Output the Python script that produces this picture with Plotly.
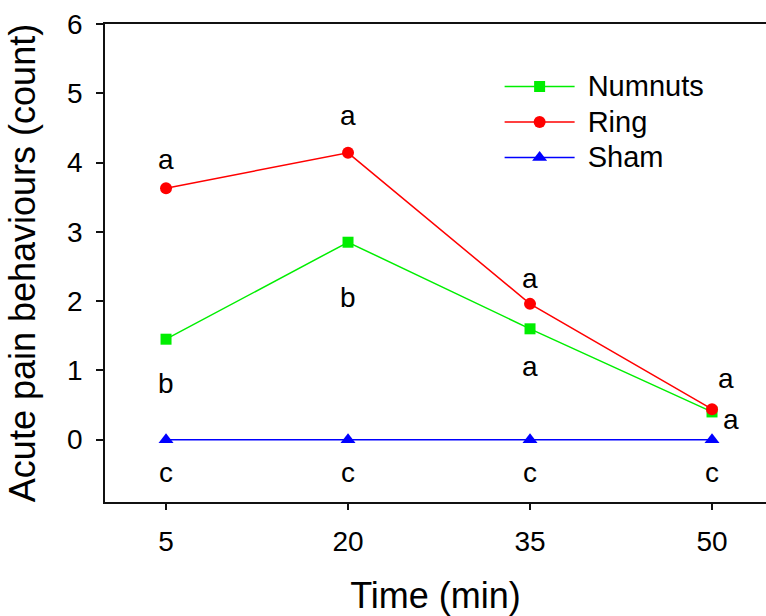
import plotly.graph_objects as go

# Sampling times (min)
times = [5, 20, 35, 50]

# Mean acute pain behaviour counts per group
numnuts = [1.45, 2.85, 1.60, 0.40]
ring = [3.63, 4.14, 1.96, 0.44]
sham = [0.0, 0.0, 0.0, 0.0]

# Significance letters
letter_x = [5, 5, 5, 20, 20, 20, 35, 35, 35, 51.15, 51.57, 50]
letter_y = [4.04, 0.81, -0.48, 4.68, 2.05, -0.48, 2.33, 1.06, -0.48, 0.89, 0.29, -0.48]
letter_text = ["a", "b", "c", "a", "b", "c", "a", "a", "c", "a", "a", "c"]

y_ticks = [0, 1, 2, 3, 4, 5, 6]

FONT = "Liberation Sans, Arial, Helvetica, sans-serif"


def legend_name(label):
    # larger text than the legend row height is based on
    return "<span style='font-size:29px'>\u00a0" + label + "</span>"


fig = go.Figure()

fig.add_trace(go.Scatter(
    x=times, y=numnuts, name=legend_name("Numnuts"), mode="lines+markers",
    line=dict(color="#00ee00", width=1.5),
    marker=dict(symbol="square", size=11, color="#00ee00"),
))
fig.add_trace(go.Scatter(
    x=times, y=ring, name=legend_name("Ring"), mode="lines+markers",
    line=dict(color="#ff0000", width=1.5),
    marker=dict(symbol="circle", size=12, color="#ff0000"),
))
fig.add_trace(go.Scatter(
    x=times, y=sham, name=legend_name("Sham"), mode="lines+markers",
    line=dict(color="#0000ff", width=1.5),
    marker=dict(symbol="triangle-up", size=13, color="#0000ff"),
))

for lx, ly, lt in zip(letter_x, letter_y, letter_text):
    fig.add_annotation(
        x=lx, y=ly, text=lt, showarrow=False,
        xanchor="center", yanchor="middle",
        font=dict(family=FONT, size=28, color="black"),
    )

fig.update_layout(
    width=766, height=616,
    margin=dict(l=105, r=0, t=24, b=114),
    paper_bgcolor="white", plot_bgcolor="white",
    font=dict(family=FONT, color="black"),
    showlegend=True,
    legend=dict(
        x=0.597, y=0.917, xanchor="left", yanchor="top",
        font=dict(family=FONT, size=25, color="black"),
        bgcolor="rgba(0,0,0,0)", itemwidth=70,
        tracegroupgap=0,
    ),
    xaxis=dict(
        range=[-0.03, 54.45],
        tickvals=times, ticktext=[str(t) for t in times],
        showline=True, linecolor="#111", linewidth=1.5, mirror=True,
        ticks="outside", ticklen=6, tickwidth=1.5, tickcolor="#111",
        showgrid=False, zeroline=False,
        tickfont=dict(family=FONT, size=28, color="black"),
        ticklabelstandoff=8,
        title=dict(text="Time (min)", font=dict(family=FONT, size=36, color="black"), standoff=28),
    ),
    yaxis=dict(
        range=[-0.9, 6],
        tickvals=y_ticks,
        showline=True, linecolor="#111", linewidth=1.5,
        ticks="outside", ticklen=7, tickwidth=1.5, tickcolor="#111",
        showgrid=False, zeroline=False,
        tickfont=dict(family=FONT, size=28, color="black"),
        ticklabelstandoff=8,
        title=dict(text="Acute pain behaviours (count)", font=dict(family=FONT, size=36, color="black"), standoff=20),
    ),
)

fig.write_html("out.html")
